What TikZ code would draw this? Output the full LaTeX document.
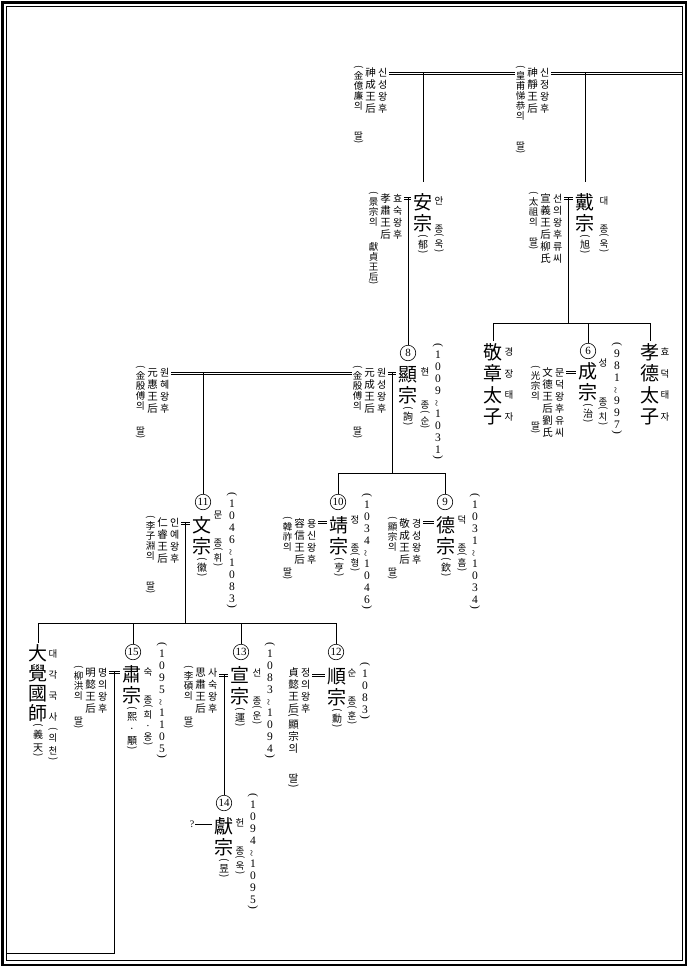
\documentclass[tikz,border=0pt]{standalone}
\usepackage{fontspec}
\usepackage{graphicx}
\setmainfont{Noto Sans CJK KR}
\newfontfamily\numfont{Liberation Serif}
\usetikzlibrary{positioning,calc}

\makeatletter
\newdimen\vc@p
\def\vc@end{vcend}
\newcommand\vgap{gap}
\newcommand\vhalf{half}
\newcommand\vop{op}
\newcommand\vcp{cp}
\newcommand\vwave{\rotatebox[origin=c]{90}{\textasciitilde}}
\def\vc@paren#1{\hbox to 1.2em{\vrule width0pt height.45em depth0pt\hss\smash{\rotatebox[origin=c]{-90}{#1}}\hss}}
\def\vc@loop#1{%
  \ifx#1\vc@end\else
    \ifx#1\vgap \kern\vc@p
    \else\ifx#1\vhalf \kern.5\vc@p
    \else\ifx#1\vop \vc@paren{(}%
    \else\ifx#1\vcp \vc@paren{)}%
    \else\hbox to 1.2em{\vrule width0pt height\dimexpr.5\vc@p+.38em\relax depth\dimexpr.5\vc@p-.38em\relax\hss\smash{#1}\hss}%
    \fi\fi\fi\fi
    \expandafter\vc@loop
  \fi}
\newcommand\vcol[2][1.15em]{\vtop{\kern0pt\offinterlineskip\vc@p=#1\relax\vc@loop#2\vc@end}}
\makeatother
\newcommand\wifecols[3]{{\fontsize{9.5}{9.5}\selectfont\vcol[10pt]{#1}}{\fontsize{10.5}{10.5}\selectfont\vcol[12pt]{#2}}{\fontsize{10}{10}\selectfont\vcol[12pt]{#3}}}
\newcommand\wed[2]{%
  \draw[wedline, transform canvas={yshift=1.05pt}] (#1) -- (#2);
  \draw[wedline, transform canvas={yshift=-1.05pt}] (#1) -- (#2);}

\tikzset{
  big/.style={anchor=north, inner sep=0pt, font=\fontsize{19}{19}\selectfont},
  pname/.style={anchor=north, inner sep=0pt, font=\fontsize{10}{10}\selectfont},
  read/.style={anchor=north, inner sep=0pt, font=\fontsize{9.5}{9.5}\selectfont},
  years/.style={anchor=north, inner sep=0pt, font=\numfont\fontsize{11.5}{11.5}\selectfont},
  wife/.style={anchor=north east, inner sep=0pt},
  num/.style={circle, draw, line width=0.6pt, inner sep=0pt, minimum size=15.5pt, font=\numfont\fontsize{11}{11}\selectfont},
  link/.style={line width=1pt},
  wedline/.style={line width=0.75pt}
}

\begin{document}
\begin{tikzpicture}[x=1pt,y=-1pt]
  \useasboundingbox (0,0) rectangle (690,967);
  \fill[white] (0,0) rectangle (690,967);
  \draw[line width=2.6pt] (2.2,2.2) rectangle (685.8,964.8);
  \draw[line width=0.9pt] (6,6.5) rectangle (682.3,960.8);

  \node[wife] (sinsung) at (389,66) {\wifecols{\vop 金億廉의\vgap\vgap 딸\vcp}{神成王后}{신성왕후}};
  \node[wife] (sinjung) at (551,66) {\wifecols{\vop 皇甫悌恭의\vgap\vgap 딸\vcp}{神靜王后}{신정왕후}};

  \node[big] (anjong) at (423,191) {\vcol[21.5pt]{安宗}};
  \node[pname, below=0pt of anjong] (anjong-n) {\vcol[12pt]{\vop 郁\vcp}};
  \node[read] (anjong-r) at (439,195.5) {\vcol[11pt]{안\vgap\vhalf 종\vop 욱\vcp}};
  \node[wife] (hyosuk) at (404,192) {\wifecols{\vop 景宗의\vgap\vhalf 獻貞王后\vcp}{孝肅王后}{효숙왕후}};

  \node[big] (daejong) at (585,191) {\vcol[21.5pt]{戴宗}};
  \node[pname, below=0pt of daejong] (daejong-n) {\vcol[12pt]{\vop 旭\vcp}};
  \node[read] (daejong-r) at (604,195.5) {\vcol[11pt]{대\vgap\vhalf 종\vop 욱\vcp}};
  \node[wife] (seonui) at (564,192) {\wifecols{\vop 太祖의\vgap 딸\vcp}{宣義王后柳氏}{선의왕후류씨}};

  \node[big] (gyeongjang) at (493,341) {\vcol[21.5pt]{敬章太子}};
  \node[read] (gyeongjang-r) at (509,341) {\vcol[21.5pt]{경장태자}};
  \node[big] (hyodeok) at (650,341) {\vcol[21.5pt]{孝德太子}};
  \node[read] (hyodeok-r) at (665,341) {\vcol[21.5pt]{효덕태자}};

  \node[num] (n6) at (588,351) {6};
  \node[big] (seongjong) at (588,360) {\vcol[21.5pt]{成宗}};
  \node[pname, below=0pt of seongjong] (seongjong-n) {\vcol[12pt]{\vop 治\vcp}};
  \node[read] (seongjong-r) at (603,357.5) {\vcol[11pt]{성\vgap\vgap\vhalf 종\vop 치\vcp}};
  \node[years] (seongjong-d) at (617,342) {\vcol[11.8pt]{\vop 981\vwave 997\vcp}};
  \node[wife] (mundeok) at (566,366) {\wifecols{\vop 光宗의\vgap\vgap 딸\vcp}{文德王后劉氏}{문덕왕후유씨}};

  \node[num] (n8) at (408,353) {8};
  \node[big] (hyeonjong) at (408,363) {\vcol[21.5pt]{顯宗}};
  \node[pname, below=0pt of hyeonjong] (hyeonjong-n) {\vcol[12pt]{\vop 詢\vcp}};
  \node[read] (hyeonjong-r) at (425,366.5) {\vcol[11pt]{현\vgap\vgap 종\vop 순\vcp}};
  \node[years] (hyeonjong-d) at (438,343) {\vcol[11.8pt]{\vop 1009\vwave 1031\vcp}};
  \node[wife] (wonsung) at (388,366) {\wifecols{\vop 金殷傅의\vgap\vhalf 딸\vcp}{元成王后}{원성왕후}};
  \node[wife] (wonhye) at (171,366) {\wifecols{\vop 金殷傅의\vgap\vhalf 딸\vcp}{元惠王后}{원혜왕후}};

  \node[num] (n11) at (203,502) {11};
  \node[big] (munjong) at (202,514) {\vcol[21.5pt]{文宗}};
  \node[pname, below=0pt of munjong] (munjong-n) {\vcol[12pt]{\vop 徽\vcp}};
  \node[read] (munjong-r) at (218,509.5) {\vcol[11pt]{문\vgap\vhalf 종\vop 휘\vcp}};
  \node[years] (munjong-d) at (232,492) {\vcol[11.8pt]{\vop 1046\vwave 1083\vcp}};
  \node[wife] (inye) at (181,516) {\wifecols{\vop 李子淵의\vgap\vgap 딸\vcp}{仁睿王后}{인예왕후}};

  \node[num] (n10) at (338,502) {10};
  \node[big] (jeongjong) at (339,514) {\vcol[21.5pt]{靖宗}};
  \node[pname, below=0pt of jeongjong] (jeongjong-n) {\vcol[12pt]{\vop 亨\vcp}};
  \node[read] (jeongjong-r) at (355,514.5) {\vcol[11pt]{정\vgap\vhalf 종\vop 형\vcp}};
  \node[years] (jeongjong-d) at (367,493) {\vcol[11.8pt]{\vop 1034\vwave 1046\vcp}};
  \node[wife] (yongsin) at (318,517) {\wifecols{\vop 韓祚의\vgap\vhalf 딸\vcp}{容信王后}{용신왕후}};

  \node[num] (n9) at (445,502) {9};
  \node[big] (deokjong) at (446,514) {\vcol[21.5pt]{德宗}};
  \node[pname, below=0pt of deokjong] (deokjong-n) {\vcol[12pt]{\vop 欽\vcp}};
  \node[read] (deokjong-r) at (462,514.5) {\vcol[11pt]{덕\vgap\vhalf 종\vop 흠\vcp}};
  \node[years] (deokjong-d) at (475,493) {\vcol[11.8pt]{\vop 1031\vwave 1034\vcp}};
  \node[wife] (gyeongsung) at (423,517) {\wifecols{\vop 顯宗의\vgap\vhalf 딸\vcp}{敬成王后}{경성왕후}};

  \node[big] (daegak) at (38,643) {\vcol[20pt]{大覺國師}};
  \node[pname, below=0pt of daegak] (daegak-n) {\vcol[13pt]{\vop 義天\vcp}};
  \node[read] (daegak-r) at (53,643) {\vcol[21pt]{대각국사}};
  \node[read, below=0pt of daegak-r] (daegak-rn) {\vcol[13pt]{\vop 의천\vcp}};

  \node[num] (n15) at (133,652) {15};
  \node[big] (sukjong) at (132,663) {\vcol[21.5pt]{肅宗}};
  \node[pname, below=0pt of sukjong] (sukjong-n) {\vcol[12pt]{\vop 熙·顒\vcp}};
  \node[read] (sukjong-r) at (148,666.5) {\vcol[11pt]{숙\vgap\vhalf 종\vop 희·옹\vcp}};
  \node[years] (sukjong-d) at (162,642) {\vcol[11.8pt]{\vop 1095\vwave 1105\vcp}};
  \node[wife] (myeongui) at (109,666) {\wifecols{\vop 柳洪의\vgap\vhalf 딸\vcp}{明懿王后}{명의왕후}};

  \node[num] (n13) at (241,652) {13};
  \node[big] (seonjong) at (240,664) {\vcol[21.5pt]{宣宗}};
  \node[pname, below=0pt of seonjong] (seonjong-n) {\vcol[12pt]{\vop 運\vcp}};
  \node[read] (seonjong-r) at (257,667.5) {\vcol[11pt]{선\vgap\vhalf 종\vop 운\vcp}};
  \node[years] (seonjong-d) at (270,642) {\vcol[11.8pt]{\vop 1083\vwave 1094\vcp}};
  \node[wife] (sasuk) at (219,666) {\wifecols{\vop 李碩의\vgap\vhalf 딸\vcp}{思肅王后}{사숙왕후}};

  \node[num] (n12) at (336,652) {12};
  \node[big] (sunjong) at (337,665) {\vcol[21.5pt]{順宗}};
  \node[pname, below=0pt of sunjong] (sunjong-n) {\vcol[12pt]{\vop 勳\vcp}};
  \node[read] (sunjong-r) at (352,667.5) {\vcol[11pt]{순\vgap\vhalf 종\vop 훈\vcp}};
  \node[years] (sunjong-d) at (365,662) {\vcol[11.8pt]{\vop 1083\vcp}};
  \node[wife] (jeongui) at (312,666) {\wifecols{}{貞懿王后\vop 顯宗의\vgap\vhalf 딸\vcp}{정의왕후}};

  \node[num] (n14) at (224,803) {14};
  \node[big] (heonjong) at (224,815) {\vcol[21.5pt]{獻宗}};
  \node[pname, below=0pt of heonjong] (heonjong-n) {\vcol[12pt]{\vop 昱\vcp}};
  \node[read] (heonjong-r) at (240,817.5) {\vcol[11pt]{헌\vgap\vhalf 종\vop 욱\vcp}};
  \node[years] (heonjong-d) at (253,793) {\vcol[11.8pt]{\vop 1094\vwave 1095\vcp}};
  \node[inner sep=1pt, font=\numfont\fontsize{10}{10}\selectfont] (q) at (192,824) {?};

  \coordinate (t0) at (682.3,73);
  \coordinate (bar-dj) at (0,323);
  \coordinate (bar-hj) at (0,473);
  \coordinate (bar-mj) at (0,623);
  \coordinate (cont) at (6,953);

  \coordinate (m-an) at ([yshift=-7pt]anjong.north west);
  \coordinate (m-dj) at ([yshift=-7pt]daejong.north west);
  \coordinate (m-sg) at ([yshift=-12pt]seongjong.north west);
  \coordinate (m-hj) at ([yshift=-10pt]hyeonjong.north west);
  \coordinate (m-mj) at ([yshift=-9pt]munjong.north west);
  \coordinate (m-jj) at ([yshift=-8pt]jeongjong.north west);
  \coordinate (m-dk) at ([yshift=-8pt]deokjong.north west);
  \coordinate (m-sk) at ([yshift=-9pt]sukjong.north west);
  \coordinate (m-sn) at ([yshift=-11pt]seonjong.north west);
  \coordinate (m-su) at ([yshift=-10pt]sunjong.north west);

  \foreach \w/\m in {hyosuk/m-an, seonui/m-dj, mundeok/m-sg, wonsung/m-hj, inye/m-mj,
                     yongsin/m-jj, gyeongsung/m-dk, myeongui/m-sk, sasuk/m-sn, jeongui/m-su}
    {\wed{\w.east |- \m}{\m}}

  \wed{t0}{sinjung.east |- t0}
  \wed{sinjung.west |- t0}{sinsung.east |- t0}
  \wed{wonhye.east |- m-hj}{wonsung.west |- m-hj}

  \draw[link, shorten >=9pt] (anjong.north |- t0) -- (anjong.north);
  \draw[link, shorten >=9pt] (daejong.north |- t0) -- (daejong.north);
  \draw[link] (n8 |- m-an) -- (n8.north);

  \coordinate (c-dj) at ($(seonui.east |- m-dj)!.5!(m-dj)$);
  \draw[link] (c-dj) -- (c-dj |- bar-dj);
  \draw[link] (gyeongjang.north) -- (gyeongjang.north |- bar-dj) -- (hyodeok.north |- bar-dj) -- (hyodeok.north);
  \draw[link] (n6 |- bar-dj) -- (n6.north);

  \draw[link] (n11 |- m-hj) -- (n11.north);
  \coordinate (c-hj) at ($(wonsung.east |- m-hj)!.5!(m-hj)$);
  \draw[link] (c-hj) -- (c-hj |- bar-hj);
  \draw[link] (n10.north) -- (n10 |- bar-hj) -- (n9 |- bar-hj) -- (n9.north);

  \coordinate (c-mj) at ($(inye.east |- m-mj)!.5!(m-mj)$);
  \draw[link] (c-mj) -- (c-mj |- bar-mj);
  \draw[link] (daegak.north) -- (daegak.north |- bar-mj) -- (n12 |- bar-mj) -- (n12.north);
  \foreach \k in {n15, n13}
    \draw[link] (\k |- bar-mj) -- (\k.north);

  \coordinate (c-sk) at ($(myeongui.east |- m-sk)!.5!(m-sk)$);
  \draw[link] (c-sk) |- (cont);
  \draw[link] (n14 |- m-sn) -- (n14.north);
  \draw[link] (q.east) -- (q.east -| heonjong.west);
\end{tikzpicture}
\end{document}
